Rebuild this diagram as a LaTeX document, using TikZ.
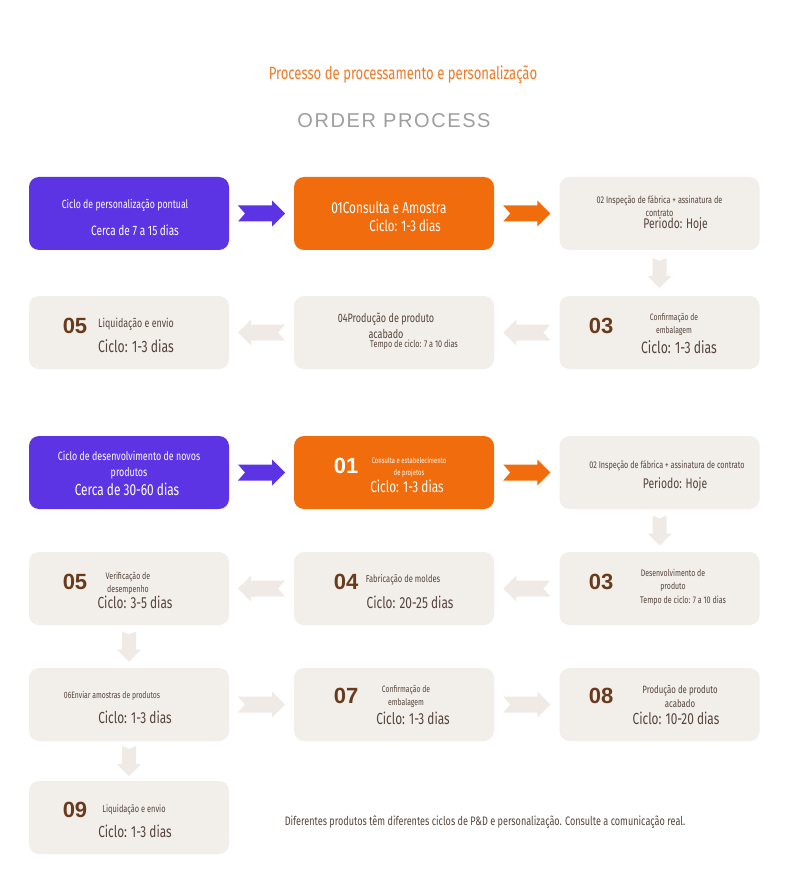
\documentclass[tikz,border=0pt]{standalone}
\usepackage{fontspec}
\setmainfont[FakeStretch=0.74]{Fira Sans}
\newfontfamily\numfont{Liberation Sans}
\newfontfamily\thinfont[LetterSpace=8]{Liberation Sans}
\usetikzlibrary{calc}
\definecolor{purp}{HTML}{5C34E4}
\definecolor{oran}{HTML}{F06C0C}
\definecolor{boxg}{HTML}{F2EEEA}
\definecolor{arrg}{HTML}{EFEAE5}
\definecolor{numc}{HTML}{6A3A1C}
\definecolor{txtc}{HTML}{55443C}
\definecolor{titc}{HTML}{EE7A26}
\newcommand{\fs}[1]{\fontsize{#1}{#1}\selectfont}
\tikzset{
  box/.style={rectangle, rounded corners=10pt, minimum width=200pt, minimum height=73pt, inner sep=0pt},
  pbox/.style={box, fill=purp},
  obox/.style={box, fill=oran},
  gbox/.style={box, fill=boxg},
  t/.style={inner sep=0pt, align=center, text=txtc},
  w/.style={inner sep=0pt, align=center, text=white},
  num/.style={inner sep=0pt, text=numc, font=\numfont\bfseries\fs{22}},
  wnum/.style={inner sep=0pt, text=white, font=\numfont\bfseries\fs{22}},
  pics/harr/.style={code={\fill[#1] (-23.5,-8) -- (-16.5,0) -- (-23.5,8) -- (10.5,8) -- (10.5,13) -- (23.5,0) -- (10.5,-13) -- (10.5,-8) -- cycle;}},
  pics/varr/.style={code={\fill[#1] (-15,-7) -- (-12,0) -- (-15,7) -- (3,7) -- (3,12) -- (15,0) -- (3,-12) -- (3,-7) -- cycle;}}
}
\begin{document}
\begin{tikzpicture}[x=1pt,y=-1pt]
\useasboundingbox[fill=white] (0,0) rectangle (790,882);
% titles
\node[inner sep=0pt, text=titc, font=\fs{17.7}] (title) at (403,75) {Processo de processamento e personalização};
\node[inner sep=0pt, text=black!38, font=\thinfont\fs{20}] (sub) at (394,121) {ORDER PROCESS};
% section 1 boxes
\node[pbox] (p1) at (129,213.5) {};
\node[obox] (p2) at (394,213.5) {};
\node[gbox] (p3) at (659.5,213.5) {};
\node[gbox] (p4) at (659.5,332.5) {};
\node[gbox] (p5) at (394,332.5) {};
\node[gbox] (p6) at (129,332.5) {};
% section 2 boxes
\node[pbox] (n1) at (129,472.5) {};
\node[obox] (n2) at (394,472.5) {};
\node[gbox] (n3) at (659.5,472.5) {};
\node[gbox] (n4) at (659.5,588.5) {};
\node[gbox] (n5) at (394,588.5) {};
\node[gbox] (n6) at (129,588.5) {};
\node[gbox] (n7) at (129,704.5) {};
\node[gbox] (n8) at (394,704.5) {};
\node[gbox] (n9) at (659.5,704.5) {};
\node[gbox] (n10) at (129,817.5) {};
% arrows section 1
\pic at ($(p1.east)!0.5!(p2.west)$) {harr=purp};
\pic at ($(p2.east)!0.5!(p3.west)$) {harr=oran};
\pic[rotate=-90] at ($(p3.south)!0.5!(p4.north)$) {varr=arrg};
\pic[rotate=180] at ($(p4.west)!0.5!(p5.east)$) {harr=arrg};
\pic[rotate=180] at ($(p5.west)!0.5!(p6.east)$) {harr=arrg};
% arrows section 2
\pic at ($(n1.east)!0.5!(n2.west)$) {harr=purp};
\pic at ($(n2.east)!0.5!(n3.west)$) {harr=oran};
\pic[rotate=-90] at ($(n3.south)!0.5!(n4.north)$) {varr=arrg};
\pic[rotate=180] at ($(n4.west)!0.5!(n5.east)$) {harr=arrg};
\pic[rotate=180] at ($(n5.west)!0.5!(n6.east)$) {harr=arrg};
\pic[rotate=-90] at ($(n6.south)!0.5!(n7.north)$) {varr=arrg};
\pic at ($(n7.east)!0.5!(n8.west)$) {harr=arrg};
\pic at ($(n8.east)!0.5!(n9.west)$) {harr=arrg};
\pic[rotate=-90] at ($(n7.south)!0.5!(n10.north)$) {varr=arrg};
% texts section 1
\node[w, font=\fs{11.8}] (p1a) at ($(p1)+(-4,-8.5)$) {Ciclo de personalização pontual};
\node[w, font=\fs{13.6}] (p1b) at ($(p1)+(6,16.5)$) {Cerca de 7 a 15 dias};
\node[w, font=\fs{16}] (p2a) at ($(p2)+(-5,-5.5)$) {01Consulta e Amostra};
\node[w, font=\fs{15.5}] (p2b) at ($(p2)+(11,12.5)$) {Ciclo: 1-3 dias};
\node[t, font=\fs{9.8}] (p3a) at ($(p3)+(0,-7)$) {02 Inspeção de fábrica + assinatura de\\[3pt]contrato};
\node[t, font=\fs{14}] (p3b) at ($(p3)+(16,11.5)$) {Periodo: Hoje};
\node[num] (p4n) at ($(p4)+(-58.5,-6.5)$) {03};
\node[t, font=\fs{9.2}] (p4a) at ($(p4)+(14.5,-8)$) {Confirmação de\\[4pt]embalagem};
\node[t, font=\fs{16.5}] (p4b) at ($(p4)+(19.5,14.5)$) {Ciclo: 1-3 dias};
\node[t, font=\fs{12.2}] (p5a) at ($(p5)+(-8,-7)$) {04Produção de produto\\[4pt]acabado};
\node[t, font=\fs{9.8}] (p5b) at ($(p5)+(20,12.5)$) {Tempo de ciclo: 7 a 10 dias};
\node[num] (p6n) at ($(p6)+(-54,-7)$) {05};
\node[t, font=\fs{12}] (p6a) at ($(p6)+(7,-8)$) {Liquidação e envio};
\node[t, font=\fs{16.5}] (p6b) at ($(p6)+(7,13.5)$) {Ciclo: 1-3 dias};
% texts section 2
\node[w, font=\fs{12}] (n1a) at ($(n1)+(0,-7)$) {Ciclo de desenvolvimento de novos\\[4pt]produtos};
\node[w, font=\fs{16}] (n1b) at ($(n1)+(-2,16.5)$) {Cerca de 30-60 dias};
\node[wnum] (n2n) at ($(n2)+(-48,-6.5)$) {01};
\node[w, font=\fs{8}] (n2a) at ($(n2)+(15,-5.5)$) {Consulta e estabelecimento\\[4pt]de projetos};
\node[w, font=\fs{16}] (n2b) at ($(n2)+(13,13.5)$) {Ciclo: 1-3 dias};
\node[t, font=\fs{9.8}] (n3a) at ($(n3)+(7.5,-6.5)$) {02 Inspeção de fábrica + assinatura de contrato};
\node[t, font=\fs{14}] (n3b) at ($(n3)+(15.5,12.5)$) {Periodo: Hoje};
\node[num] (n4n) at ($(n4)+(-58.5,-6.5)$) {03};
\node[t, font=\fs{9.4}] (n4a) at ($(n4)+(13.5,-8)$) {Desenvolvimento de\\[4pt]produto};
\node[t, font=\fs{9.6}] (n4b) at ($(n4)+(23.5,12.5)$) {Tempo de ciclo: 7 a 10 dias};
\node[num] (n5n) at ($(n5)+(-48,-7)$) {04};
\node[t, font=\fs{10.2}] (n5a) at ($(n5)+(9,-8.5)$) {Fabricação de moldes};
\node[t, font=\fs{16}] (n5b) at ($(n5)+(16,14)$) {Ciclo: 20-25 dias};
\node[num] (n6n) at ($(n6)+(-54,-7)$) {05};
\node[t, font=\fs{9.5}] (n6a) at ($(n6)+(-1,-5)$) {Verificação de\\[4pt]desempenho};
\node[t, font=\fs{16}] (n6b) at ($(n6)+(6,13.5)$) {Ciclo: 3-5 dias};
\node[t, font=\fs{9.2}] (n7a) at ($(n7)+(-17,-8.5)$) {06Enviar amostras de produtos};
\node[t, font=\fs{16}] (n7b) at ($(n7)+(6,12.5)$) {Ciclo: 1-3 dias};
\node[num] (n8n) at ($(n8)+(-48,-8.5)$) {07};
\node[t, font=\fs{9.2}] (n8a) at ($(n8)+(12,-8)$) {Confirmação de\\[4pt]embalagem};
\node[t, font=\fs{16}] (n8b) at ($(n8)+(19,13.5)$) {Ciclo: 1-3 dias};
\node[num] (n9n) at ($(n9)+(-58.5,-8.5)$) {08};
\node[t, font=\fs{10.6}] (n9a) at ($(n9)+(20.5,-8)$) {Produção de produto\\[4pt]acabado};
\node[t, font=\fs{16}] (n9b) at ($(n9)+(16.5,13.5)$) {Ciclo: 10-20 dias};
\node[num] (n10n) at ($(n10)+(-54,-7.5)$) {09};
\node[t, font=\fs{10}] (n10a) at ($(n10)+(5,-8)$) {Liquidação e envio};
\node[t, font=\fs{16}] (n10b) at ($(n10)+(6,13.5)$) {Ciclo: 1-3 dias};
% footnote
\node[t, font=\fs{12.3}] (foot) at (485,822) {Diferentes produtos têm diferentes ciclos de P\&D e personalização. Consulte a comunicação real.};
\end{tikzpicture}
\end{document}
